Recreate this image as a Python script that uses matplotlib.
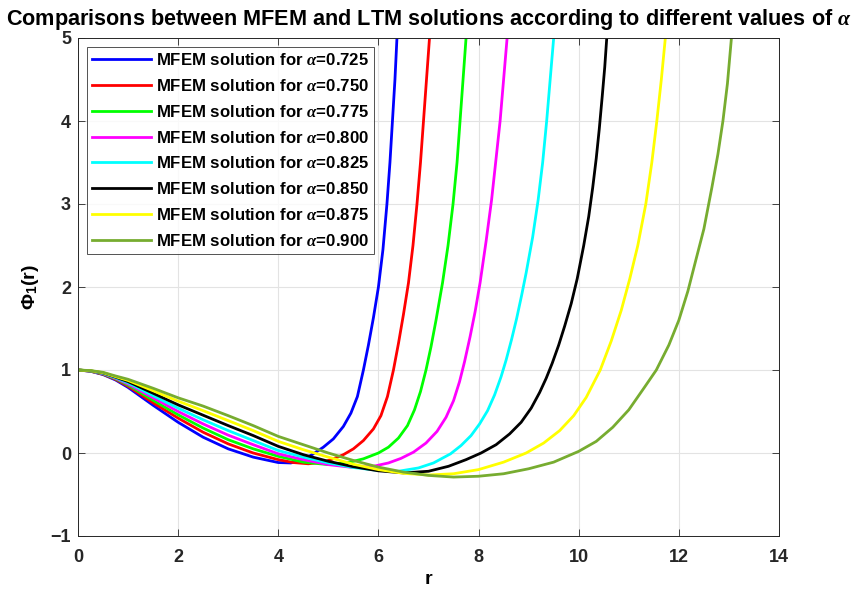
import matplotlib
matplotlib.use("Agg")
import matplotlib.pyplot as plt

plt.rcParams['font.family'] = ['Liberation Sans', 'DejaVu Sans']
plt.rcParams['font.weight'] = 'bold'
plt.rcParams['mathtext.fontset'] = 'custom'
plt.rcParams['mathtext.rm'] = 'Liberation Sans:bold'
plt.rcParams['mathtext.bf'] = 'Liberation Sans:bold'
plt.rcParams['mathtext.it'] = 'Liberation Serif:italic'

alphas = ['0.725', '0.750', '0.775', '0.800', '0.825', '0.850', '0.875', '0.900']
colors = ['#0000ff', '#ff0000', '#00ff00', '#ff00ff', '#00ffff', '#000000', '#ffff00', '#77ac30']

r_head = [0, 0.25, 0.5, 0.75, 1, 1.5, 2, 2.5, 3, 3.5, 4]

r_0725 = r_head + [4.25, 4.5, 4.7, 4.9, 5.1, 5.3, 5.45, 5.58, 5.7, 5.8, 5.9, 6.0, 6.09, 6.17, 6.23, 6.28, 6.33, 6.37]
phi_0725 = [1, 0.985, 0.945, 0.88, 0.79, 0.575, 0.37, 0.19, 0.05, -0.05, -0.115,
            -0.12, -0.08, -0.01, 0.07, 0.17, 0.32, 0.48, 0.68, 1.0, 1.3, 1.63, 2.0, 2.45, 3.0, 3.5, 4.0, 4.5, 5.0]

r_0750 = r_head + [4.3, 4.6, 4.9, 5.1, 5.3, 5.5, 5.7, 5.9, 6.05, 6.18, 6.3, 6.4, 6.5, 6.6, 6.69, 6.77, 6.84, 6.9, 6.96, 7.02]
phi_0750 = [1, 0.986, 0.949, 0.887, 0.804, 0.605, 0.42, 0.25, 0.11, 0.0, -0.08,
            -0.115, -0.13, -0.11, -0.07, -0.02, 0.05, 0.15, 0.29, 0.45, 0.68, 1.0, 1.32, 1.67, 2.05, 2.5, 3.0, 3.5, 4.0, 4.5, 5.0]

r_0775 = r_head + [4.5, 5.0, 5.4, 5.7, 6.0, 6.2, 6.4, 6.58, 6.72, 6.84, 6.95, 7.05, 7.15, 7.28, 7.39, 7.49, 7.57, 7.63, 7.69, 7.75]
phi_0775 = [1, 0.987, 0.953, 0.894, 0.818, 0.635, 0.46, 0.30, 0.16, 0.05, -0.04,
            -0.11, -0.14, -0.115, -0.07, 0.0, 0.07, 0.18, 0.33, 0.52, 0.74, 1.0, 1.28, 1.6, 2.05, 2.5, 3.0, 3.5, 4.0, 4.5, 5.0]

r_0800 = r_head + [4.5, 5.0, 5.5, 5.9, 6.2, 6.45, 6.7, 6.95, 7.17, 7.35, 7.5, 7.62, 7.72, 7.83, 7.93, 8.03, 8.15, 8.26, 8.35, 8.43, 8.5, 8.57]
phi_0800 = [1, 0.988, 0.957, 0.90, 0.832, 0.665, 0.50, 0.35, 0.215, 0.10, -0.01,
            -0.08, -0.14, -0.175, -0.16, -0.12, -0.065, 0.01, 0.12, 0.26, 0.43, 0.63, 0.86, 1.1, 1.4, 1.7, 2.05, 2.55, 3.05, 3.55, 4.0, 4.5, 5.0]

r_0825 = r_head + [4.5, 5.0, 5.5, 6.0, 6.4, 6.8, 7.1, 7.44, 7.65, 7.85, 8.02, 8.18, 8.32, 8.45, 8.55, 8.66, 8.76, 8.86, 8.95, 9.08, 9.19, 9.28, 9.36, 9.43, 9.5]
phi_0825 = [1, 0.989, 0.961, 0.907, 0.846, 0.69, 0.54, 0.40, 0.27, 0.15, 0.03,
            -0.05, -0.12, -0.175, -0.21, -0.22, -0.18, -0.12, -0.01, 0.09, 0.21, 0.35, 0.51, 0.7, 0.92, 1.12, 1.37, 1.62, 1.9, 2.17, 2.6, 3.05, 3.5, 4.0, 4.5, 5.0]

r_0850 = r_head + [4.5, 5.0, 5.5, 6.0, 6.5, 7.0, 7.4, 7.75, 8.05, 8.35, 8.62, 8.85, 9.05, 9.22, 9.35, 9.47, 9.6, 9.72, 9.85, 9.97, 10.1, 10.2, 10.28, 10.35, 10.41, 10.47, 10.52, 10.56]
phi_0850 = [1, 0.990, 0.965, 0.914, 0.86, 0.72, 0.58, 0.455, 0.33, 0.21, 0.08,
            -0.02, -0.10, -0.165, -0.215, -0.24, -0.22, -0.16, -0.08, 0.0, 0.1, 0.23, 0.37, 0.54, 0.73, 0.9, 1.08, 1.3, 1.53, 1.8, 2.1, 2.5, 2.85, 3.2, 3.55, 3.9, 4.3, 4.65, 5.0]

r_0875 = r_head + [4.5, 5.0, 5.5, 6.0, 6.5, 7.0, 7.5, 8.0, 8.5, 8.95, 9.3, 9.62, 9.9, 10.15, 10.43, 10.65, 10.85, 11.02, 11.18, 11.34, 11.46, 11.56, 11.65, 11.73]
phi_0875 = [1, 0.991, 0.968, 0.92, 0.874, 0.75, 0.625, 0.51, 0.39, 0.27, 0.14,
            0.04, -0.05, -0.135, -0.2, -0.245, -0.265, -0.25, -0.2, -0.11, 0.0, 0.12, 0.27, 0.45, 0.67, 1.0, 1.35, 1.72, 2.1, 2.5, 3.0, 3.5, 4.0, 4.5, 5.0]

r_0900 = r_head + [4.5, 5.0, 5.5, 6.0, 6.5, 7.0, 7.5, 8.0, 8.5, 9.0, 9.5, 10.0, 10.35, 10.68, 11.0, 11.3, 11.55, 11.8, 12.0, 12.18, 12.35, 12.5, 12.66, 12.78, 12.88, 12.97, 13.05]
phi_0900 = [1, 0.993, 0.972, 0.928, 0.888, 0.78, 0.665, 0.565, 0.45, 0.33, 0.20,
            0.10, 0.0, -0.09, -0.17, -0.23, -0.27, -0.29, -0.28, -0.25, -0.19, -0.11, 0.02, 0.14, 0.31, 0.52, 0.78, 1.0, 1.3, 1.6, 1.95, 2.35, 2.7, 3.2, 3.6, 4.0, 4.45, 5.0]

series_r = [r_0725, r_0750, r_0775, r_0800, r_0825, r_0850, r_0875, r_0900]
series_phi = [phi_0725, phi_0750, phi_0775, phi_0800, phi_0825, phi_0850, phi_0875, phi_0900]

x_ticks = [0, 2, 4, 6, 8, 10, 12, 14]
y_ticks = [-1, 0, 1, 2, 3, 4, 5]

fig = plt.figure(figsize=(8.51, 5.92), dpi=100)
ax = fig.add_axes([78/851, 1-536/592, (779-78)/851, (536-38)/592])

for a, c, rr, pp in zip(alphas, colors, series_r, series_phi):
    ax.plot(rr, pp, color=c, lw=2.0, label=r'MFEM solution for $\alpha$=' + a,
            solid_joinstyle='round')

ax.set_xlim(0, 14)
ax.set_ylim(-1, 5)
ax.set_xticks(x_ticks)
ax.set_yticks(y_ticks)
ax.grid(True, color='#e3e3e3', lw=0.8)
ax.set_axisbelow(True)
ax.tick_params(direction='in', length=5, width=0.6, top=True, right=True,
               labelsize=13, colors='#262626')
ax.tick_params(axis='x', pad=9)
ax.tick_params(axis='y', pad=5)
for lab in ax.get_xticklabels() + ax.get_yticklabels():
    lab.set_fontweight('bold')
for s in ax.spines.values():
    s.set_color('#262626')
    s.set_linewidth(0.7)

ax.set_xlabel('r', fontsize=14, fontweight='bold', labelpad=4)
ax.set_ylabel(r'$\mathbf{\Phi}_\mathbf{1}\mathbf{(r)}$', fontsize=14, labelpad=7)
ax.set_title(r'Comparisons between MFEM and LTM solutions according to different values of $\alpha$',
             fontsize=15.6, fontweight='bold', pad=9)

leg = ax.legend(loc='upper left', fontsize=12.1, frameon=True, fancybox=False,
                edgecolor='#262626', handlelength=3.5, borderaxespad=0.55,
                labelspacing=0.58, handletextpad=0.3, borderpad=0.3)
leg.get_frame().set_linewidth(0.7)
for t in leg.get_texts():
    t.set_fontweight('bold')

fig.savefig('out.png', dpi=100)
